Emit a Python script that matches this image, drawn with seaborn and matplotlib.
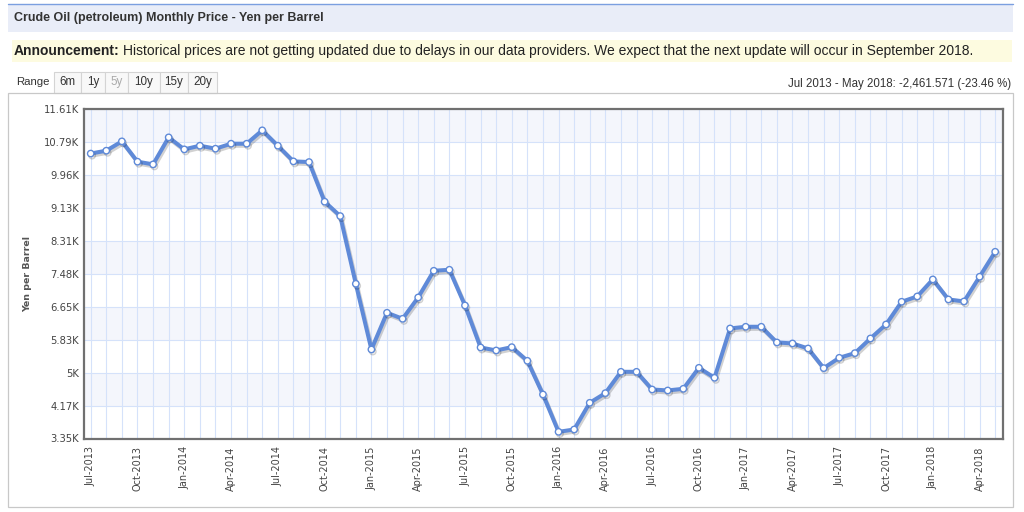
import matplotlib
matplotlib.use("Agg")
import matplotlib.pyplot as plt
import matplotlib.patheffects as pe
from matplotlib.patches import Rectangle
import numpy as np
import pandas as pd
import seaborn as sns

# ---------------- data ----------------
months = ["Jul-2013", "Aug-2013", "Sep-2013", "Oct-2013", "Nov-2013", "Dec-2013",
          "Jan-2014", "Feb-2014", "Mar-2014", "Apr-2014", "May-2014", "Jun-2014",
          "Jul-2014", "Aug-2014", "Sep-2014", "Oct-2014", "Nov-2014", "Dec-2014",
          "Jan-2015", "Feb-2015", "Mar-2015", "Apr-2015", "May-2015", "Jun-2015",
          "Jul-2015", "Aug-2015", "Sep-2015", "Oct-2015", "Nov-2015", "Dec-2015",
          "Jan-2016", "Feb-2016", "Mar-2016", "Apr-2016", "May-2016", "Jun-2016",
          "Jul-2016", "Aug-2016", "Sep-2016", "Oct-2016", "Nov-2016", "Dec-2016",
          "Jan-2017", "Feb-2017", "Mar-2017", "Apr-2017", "May-2017", "Jun-2017",
          "Jul-2017", "Aug-2017", "Sep-2017", "Oct-2017", "Nov-2017", "Dec-2017",
          "Jan-2018", "Feb-2018", "Mar-2018", "Apr-2018", "May-2018"]
prices = [10493, 10565, 10799, 10289, 10222, 10899,
          10598, 10690, 10615, 10740, 10740, 11075,
          10690, 10297, 10280, 9286, 8926, 7229,
          5582, 6502, 6351, 6886, 7555, 7580,
          6686, 5632, 5557, 5640, 5298, 4454,
          3517, 3576, 4245, 4487, 5022, 5022,
          4579, 4554, 4596, 5122, 4872, 6109,
          6151, 6151, 5758, 5733, 5607, 5114,
          5373, 5490, 5858, 6209, 6778, 6911,
          7338, 6836, 6786, 7405, 8031]
x_tick_labels = ["Jul-2013", "Oct-2013", "Jan-2014", "Apr-2014", "Jul-2014",
                 "Oct-2014", "Jan-2015", "Apr-2015", "Jul-2015", "Oct-2015",
                 "Jan-2016", "Apr-2016", "Jul-2016", "Oct-2016", "Jan-2017",
                 "Apr-2017", "Jul-2017", "Oct-2017", "Jan-2018", "Apr-2018"]
y_tick_values = [3350, 4176, 5002, 5828, 6654, 7480, 8306, 9132, 9958, 10784, 11610]
y_tick_labels = ["3.35K", "4.17K", "5K", "5.83K", "6.65K", "7.48K",
                 "8.31K", "9.13K", "9.96K", "10.79K", "11.61K"]
range_buttons = ["6m", "1y", "5y", "10y", "15y", "20y"]

title = "Crude Oil (petroleum) Monthly Price - Yen per Barrel"
announce_bold = "Announcement:"
announce_rest = ("Historical prices are not getting updated due to delays in our data "
                 "providers. We expect that the next update will occur in September 2018.")
change_text = "Jul 2013 - May 2018: -2,461.571 (-23.46 %)"
y_label = "Yen per Barrel"

df = pd.DataFrame({"month_idx": np.arange(len(months)), "month": months, "price": prices})

# ---------------- figure ----------------
sns.set_theme(style="white")
plt.rcParams["font.family"] = ["Liberation Sans", "DejaVu Sans"]

W, H = 1024, 512
fig = plt.figure(figsize=(W / 100, H / 100), dpi=100)
fig.patch.set_facecolor("white")


def fx(x):
    return x / W


def fy(y):
    return 1 - y / H


def rect_px(x0, y0, x1, y1, **kw):
    r = Rectangle((fx(x0), fy(y1)), fx(x1) - fx(x0), fy(y0) - fy(y1),
                  transform=fig.transFigure, **kw)
    fig.add_artist(r)
    return r


# header bar
rect_px(8, 4, 1013, 32, facecolor="#e9edf8", edgecolor="none", zorder=0)
fig.add_artist(plt.Line2D([fx(8), fx(1013)], [fy(4), fy(4)], color="#7b9fe0",
                          lw=1.0, transform=fig.transFigure))
fig.text(fx(14), fy(18), title, fontsize=9.0, fontweight="bold", color="#333333",
         va="center", ha="left")

# announcement bar
rect_px(12, 40, 1012, 62, facecolor="#fdfbe0", edgecolor="none", zorder=0)
tb = fig.text(fx(14), fy(51), announce_bold, fontsize=10.0, fontweight="bold",
              color="#222222", va="center", ha="left")

# range row
fig.text(fx(16), fy(82), "Range", fontsize=8.2, color="#333333", va="center", ha="left")
btn_edges = [54, 81, 105, 128, 160, 188, 217]
for i, lab in enumerate(range_buttons):
    x0, x1 = btn_edges[i], btn_edges[i + 1]
    rect_px(x0, 72, x1, 93, facecolor="#f8f8f8", edgecolor="#d4d4d4", lw=0.8, zorder=1)
    fig.text(fx((x0 + x1) / 2), fy(82), lab, fontsize=8.4,
             color="#aaaaaa" if lab == "5y" else "#333333",
             va="center", ha="center", zorder=2)
fig.text(fx(1011), fy(84), change_text, fontsize=8.3, color="#333333",
         va="center", ha="right")

# chart box
rect_px(8, 93, 1013, 507, facecolor="none", edgecolor="#c8c8c8", lw=0.9, zorder=1)

# ---------------- axes ----------------
ax = fig.add_axes([fx(84), fy(438.5), fx(1003) - fx(84), fy(109) - fy(438.5)])
ax.set_facecolor("white")

# alternating bands
for i in range(len(y_tick_values) - 1):
    if i % 2 == 1:
        ax.axhspan(y_tick_values[i], y_tick_values[i + 1], color="#f4f6fc",
                   zorder=0, lw=0)

sns.lineplot(data=df, x="month_idx", y="price", ax=ax, color="#5f8ad8",
             linewidth=2.9, marker="o", markersize=4.6, markerfacecolor="white",
             markeredgecolor="#5f8ad8", markeredgewidth=1.0, zorder=5,
             path_effects=[pe.SimpleLineShadow(offset=(1.0, -1.5), shadow_color="black",
                                               alpha=0.18), pe.Normal()])

ax.set_xlim(-0.43, 58.5)
ax.set_ylim(y_tick_values[0], y_tick_values[-1])

ax.set_xticks(np.arange(0, len(months), 3))
ax.set_xticklabels(x_tick_labels, rotation=90, fontsize=7.0, color="#444444",
                   family="DejaVu Sans")
ax.set_xticks(np.arange(0, len(months)), minor=True)
ax.set_yticks(y_tick_values)
ax.set_yticklabels(y_tick_labels, fontsize=7.2, color="#444444", family="DejaVu Sans")

ax.grid(True, which="major", axis="both", color="#d5e2fa", lw=0.8, zorder=1)
ax.grid(True, which="minor", axis="x", color="#d5e2fa", lw=0.8, zorder=1)
ax.set_axisbelow(True)
ax.tick_params(axis="both", which="both", length=0)
ax.tick_params(axis="x", pad=5.5)
ax.tick_params(axis="y", pad=3.5)

ax.set_xlabel("")
ax.set_ylabel(y_label, fontsize=6.8, fontweight="bold", color="#555555",
              family="DejaVu Sans")
ax.yaxis.set_label_coords((32 - 84) / (1003 - 84), 0.5)

for s in ax.spines.values():
    s.set_visible(True)
    s.set_color("#707070")
    s.set_linewidth(1.6)

# announcement rest, placed right after the bold word
fig.canvas.draw()
bb = tb.get_window_extent()
fig.text(bb.x1 / W + 3 / W, fy(51), announce_rest, fontsize=10.0, color="#222222",
         va="center", ha="left")

fig.savefig("out.png", dpi=100, facecolor="white")
